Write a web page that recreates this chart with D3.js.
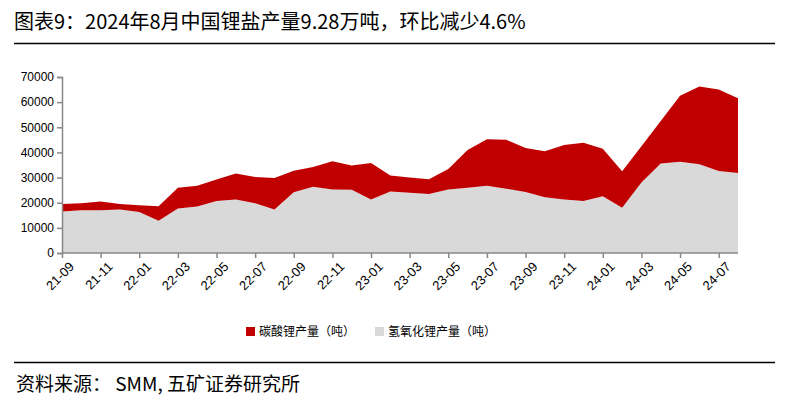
<!DOCTYPE html><html><head><meta charset="utf-8"><script src="https://cdn.jsdelivr.net/npm/d3@7"></script>
<style>body{margin:0;background:#fff;font-family:"Noto Sans CJK SC","Liberation Sans",sans-serif}</style></head><body><svg id="c" width="797" height="405"></svg><script>
const months=["21-09","21-10","21-11","21-12","22-01","22-02","22-03","22-04","22-05","22-06","22-07","22-08","22-09","22-10","22-11","22-12","23-01","23-02","23-03","23-04","23-05","23-06","23-07","23-08","23-09","23-10","23-11","23-12","24-01","24-02","24-03","24-04","24-05","24-06","24-07","24-08"];
const hydroxide=[16500,17000,17000,17300,16300,12800,17700,18500,20700,21300,19800,17300,24200,26300,25300,25200,21300,24500,24000,23500,25300,26000,26700,25600,24300,22200,21300,20700,22600,18000,28000,35600,36300,35300,32600,31800];
const carbonate=[3000,2800,3500,2200,2700,5800,8300,8200,8500,10300,10400,12500,8500,7900,11200,9600,14500,6300,6000,5800,8100,15000,18500,19400,17500,18300,21700,23100,18900,14500,14500,16900,26200,30900,32400,29700];
const yTicks=[0,10000,20000,30000,40000,50000,60000,70000];
const svg=d3.select("#c");
svg.append("text").attr("x",14).attr("y",29).attr("font-size",20).attr("fill","#000").text("图表9：2024年8月中国锂盐产量9.28万吨，环比减少4.6%");
svg.append("line").attr("x1",14).attr("x2",775).attr("y1",43.5).attr("y2",43.5).attr("stroke","#000").attr("stroke-width",1.5);
svg.append("line").attr("x1",14).attr("x2",775).attr("y1",362.5).attr("y2",362.5).attr("stroke","#000").attr("stroke-width",1.5);
svg.append("text").attr("x",16).attr("y",391).attr("font-size",19).text("资料来源：  SMM, 五矿证券研究所");
const x=d3.scalePoint().domain(months).range([62,738]);
const y=d3.scaleLinear().domain([0,70000]).range([253,77]);
const data=months.map((m,i)=>({m,h:hydroxide[i],c:carbonate[i]}));
const st=d3.stack().keys(["h","c"])(data);
const cols={h:"#d9d9d9",c:"#c00000"};
const area=d3.area().x(d=>x(d.data.m)).y0(d=>y(d[0])).y1(d=>y(d[1]));
svg.selectAll(".a").data(st).join("path").attr("d",area).attr("fill",d=>cols[d.key]);
const ya=svg.append("g").attr("transform","translate(62,0)").call(d3.axisLeft(y).tickValues(yTicks).tickSize(5).tickFormat(d3.format("d")));
ya.selectAll("text").attr("font-size",12).attr("fill","#000").attr("font-family","Liberation Sans");
const xa=svg.append("g").attr("transform","translate(0,253)").call(d3.axisBottom(x).tickValues(months.filter((d,i)=>i%2==0)).tickSize(5));
xa.select(".domain").attr("d","M62,0H738");
xa.selectAll("text").attr("font-size",13).attr("fill","#000").attr("font-family","Liberation Sans").attr("text-anchor","end").attr("transform","translate(4,6) rotate(-45)").attr("dy","0.3em");
svg.selectAll(".domain,.tick line").attr("stroke","#888").attr("stroke-width",1.5);
const lg=svg.append("g").attr("font-size",12);
[["c","碳酸锂产量（吨）",246],["h","氢氧化锂产量（吨）",375]].forEach(([k,t,lx])=>{lg.append("rect").attr("x",lx).attr("y",327).attr("width",9).attr("height",9).attr("fill",cols[k]);lg.append("text").attr("x",lx+13).attr("y",336).text(t);});
</script></body></html>
